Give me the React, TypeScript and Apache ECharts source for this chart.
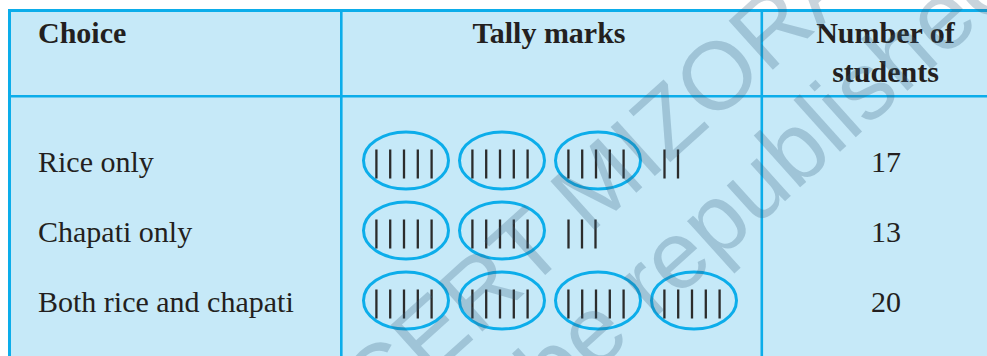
import React, { useEffect, useRef } from "react";
import * as echarts from "echarts";

// ---- data ----
const headerChoice = "Choice";
const headerTally = "Tally marks";
const headerCount = ["Number of", "students"];
const choices = ["Rice only", "Chapati only", "Both rice and chapati"];
const counts = [17, 13, 20];
const watermarkLines = ["© SCERT MIZORAM", "not to be republished"];

const W = 987;
const H = 356;

export default function App() {
  const ref = useRef<HTMLDivElement>(null);
  useEffect(() => {
    document.body.style.margin = "0";
    if (!ref.current) return;
    const chart = echarts.init(ref.current, undefined, { renderer: "svg" });

    const blue = "#0cadea";
    const bg = "#c6e9f8";
    const ink = "#231f20";
    const serif = "Liberation Serif";
    const fs = 30;
    const mid = (baseline: number) => baseline - 0.34 * fs;
    const txt = (x: number, y: number, text: string, bold: boolean, align: string) => ({
      type: "text",
      x,
      y,
      z: 5,
      style: {
        text,
        fontFamily: serif,
        fontSize: fs,
        fontWeight: bold ? "bold" : "normal",
        fill: ink,
        align,
        verticalAlign: "middle",
      },
    });

    const g: any[] = [];
    // background
    g.push({ type: "rect", shape: { x: 8, y: 9, width: W - 8, height: H - 9 }, style: { fill: bg }, z: 0 });

    // borders
    const lines: [number, number, number, number, number][] = [
      [8, 10.5, W, 10.5, 3],
      [9.5, 9, 9.5, H, 3],
      [8, 96.3, W, 96.3, 2.6],
      [341.3, 9, 341.3, H, 2.6],
      [761.8, 9, 761.8, H, 2.6],
    ];
    lines.forEach(([x1, y1, x2, y2, lw]) =>
      g.push({ type: "line", shape: { x1, y1, x2, y2 }, style: { stroke: blue, lineWidth: lw }, z: 2 })
    );

    // headers
    g.push(txt(38, mid(43), headerChoice, true, "left"));
    g.push(txt(549, mid(43), headerTally, true, "center"));
    headerCount.forEach((t, i) => g.push(txt(885.5, mid(43 + i * 39), t, true, "center")));

    // rows
    const baselines = [172, 242, 312];
    choices.forEach((c, r) => {
      const b = baselines[r];
      g.push(txt(38, mid(b), c, false, "left"));
      g.push(txt(886, mid(b), String(counts[r]), false, "center"));

      const n = counts[r];
      const groups = Math.floor(n / 5);
      const rest = n % 5;
      const cy = b - 11.5;
      const barTop = b - 22.5;
      const barBot = b + 6.5;
      const groupX = (k: number) => 406 + k * 96;
      for (let k = 0; k < groups; k++) {
        const cx = groupX(k);
        g.push({ type: "ellipse", shape: { cx, cy, rx: 42.5, ry: 28.5 }, style: { fill: "none", stroke: blue, lineWidth: 3 }, z: 3 });
        for (let j = 0; j < 5; j++) {
          const x = cx - 2 - 27.6 + j * 13.8;
          g.push({ type: "line", shape: { x1: x, y1: barTop, x2: x, y2: barBot }, style: { stroke: "#2b2b2b", lineWidth: 2.3 }, z: 4 });
        }
      }
      const start = groupX(groups - 1) + 66.5;
      for (let j = 0; j < rest; j++) {
        const x = start + j * 13.5;
        g.push({ type: "line", shape: { x1: x, y1: barTop, x2: x, y2: barBot }, style: { stroke: "#2b2b2b", lineWidth: 2.3 }, z: 4 });
      }
    });

    // watermark
    const rot = (42 * Math.PI) / 180;
    const anchors = [
      [235, 509],
      [333, 563],
    ];
    watermarkLines.forEach((t, i) =>
      g.push({
        type: "text",
        x: anchors[i][0],
        y: anchors[i][1],
        rotation: rot,
        silent: true,
        style: {
          text: t,
          fontFamily: "Liberation Sans",
          fontSize: 96,
          fill: "rgba(55,95,125,0.27)",
          align: "left",
          verticalAlign: "middle",
        },
        z: 10,
      })
    );

    chart.setOption({ animation: false, graphic: { elements: g } });
    return () => chart.dispose();
  }, []);
  return <div ref={ref} style={{ width: W, height: H, background: "#fff" }} />;
}
